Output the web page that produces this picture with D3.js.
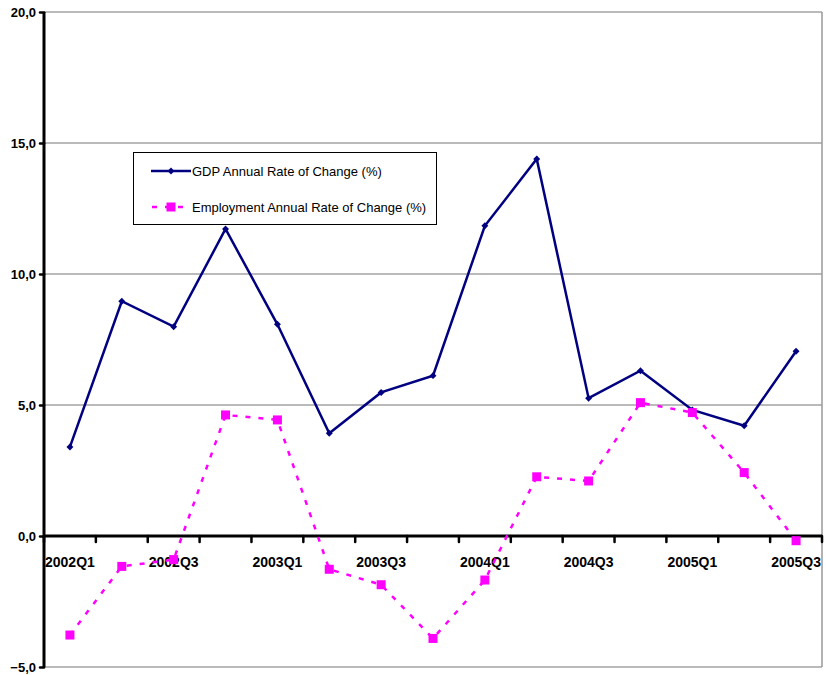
<!DOCTYPE html>
<html>
<head>
<meta charset="utf-8">
<script src="https://cdn.jsdelivr.net/npm/d3@7"></script>
<style>
  body { margin: 0; background: #fff; }
  svg { display: block; font-family: Arial, "Liberation Sans", sans-serif; }
</style>
</head>
<body>
<svg id="chart" width="826" height="675"></svg>
<script>
// Quarterly categories
const quarters = ["2002Q1","2002Q2","2002Q3","2002Q4","2003Q1","2003Q2","2003Q3","2003Q4",
                  "2004Q1","2004Q2","2004Q3","2004Q4","2005Q1","2005Q2","2005Q3"];
// Only every other quarter is labelled on the axis
const labelledQuarters = ["2002Q1","2002Q3","2003Q1","2003Q3","2004Q1","2004Q3","2005Q1","2005Q3"];
// Annual rates of change (%)
const gdpChange = [3.4, 8.96, 7.99, 11.72, 8.08, 3.92, 5.48, 6.12, 11.84, 14.39, 5.26, 6.31, 4.81, 4.21, 7.05];
const employmentChange = [-3.78, -1.16, -0.9, 4.62, 4.43, -1.27, -1.86, -3.91, -1.68, 2.26, 2.1, 5.09, 4.71, 2.42, -0.18];
const yTicks = [-5, 0, 5, 10, 15, 20];
const seriesNames = ["GDP Annual Rate of Change (%)", "Employment Annual Rate of Change (%)"];

const svg = d3.select("#chart");
const plotLeft = 44, plotRight = 822, plotTop = 12, plotBottom = 667;

const x = d3.scaleBand().domain(quarters).range([plotLeft, plotRight]);
const y = d3.scaleLinear().domain([-5, 20]).range([plotBottom, plotTop]);
const cx = d => x(d) + x.bandwidth() / 2;
const fmt = v => d3.format(".1f")(v).replace(".", ",");

// Gridlines and plot frame
svg.append("g").selectAll("line").data(yTicks.filter(t => t !== 0)).join("line")
  .attr("x1", plotLeft).attr("x2", plotRight)
  .attr("y1", d => y(d)).attr("y2", d => y(d))
  .attr("stroke", "#777").attr("stroke-width", 1.2);
svg.append("line").attr("x1", plotRight).attr("x2", plotRight).attr("y1", y(20)).attr("y2", y(-5))
  .attr("stroke", "#999").attr("stroke-width", 1.5);

// Y axis
const yAxis = svg.append("g").attr("transform", `translate(${plotLeft},0)`)
  .call(d3.axisLeft(y).tickValues(yTicks).tickFormat(fmt).tickSize(5).tickPadding(3));
yAxis.select(".domain").remove();
yAxis.selectAll(".tick line").attr("stroke", "#000").attr("stroke-width", 2.5).attr("stroke-linecap", "round").attr("x2", -4);
yAxis.selectAll(".tick text").attr("font-size", 13).attr("font-weight", "bold").attr("fill", "#000")
  .attr("font-family", "Arial, 'Liberation Sans', sans-serif").attr("x", -8);
svg.append("line").attr("x1", plotLeft).attr("x2", plotLeft).attr("y1", y(20)).attr("y2", y(-5))
  .attr("stroke", "#000").attr("stroke-width", 3);

// X axis on the zero line: tick marks at category boundaries
svg.append("g").selectAll("line").data(d3.range(quarters.length + 1)).join("line")
  .attr("x1", i => plotLeft + i * x.bandwidth()).attr("x2", i => plotLeft + i * x.bandwidth())
  .attr("y1", y(0)).attr("y2", y(0) + 6)
  .attr("stroke", "#000").attr("stroke-width", 2.5).attr("stroke-linecap", "round");
svg.append("line").attr("x1", plotLeft).attr("x2", plotRight).attr("y1", y(0)).attr("y2", y(0))
  .attr("stroke", "#000").attr("stroke-width", 3);
svg.append("g").selectAll("text").data(labelledQuarters).join("text")
  .attr("x", d => cx(d)).attr("y", y(0) + 31)
  .attr("text-anchor", "middle").attr("font-size", 14).attr("font-weight", "bold")
  .text(d => d);

// GDP series
const lineGen = d3.line().x((d, i) => cx(quarters[i])).y(d => y(d));
svg.append("path").datum(gdpChange).attr("d", lineGen)
  .attr("fill", "none").attr("stroke", "#000080").attr("stroke-width", 2.5).attr("stroke-linejoin", "miter");
const diamondPath = d3.symbol().type(d3.symbolSquare).size(24)();
svg.append("g").selectAll("path").data(gdpChange).join("path")
  .attr("d", diamondPath).attr("fill", "#000080")
  .attr("transform", (d, i) => `translate(${cx(quarters[i])},${y(d)}) rotate(45)`);

// Employment series
svg.append("path").datum(employmentChange).attr("d", lineGen)
  .attr("fill", "none").attr("stroke", "#ff00ff").attr("stroke-width", 2.5).attr("stroke-dasharray", "5,8");
svg.append("g").selectAll("rect").data(employmentChange).join("rect")
  .attr("x", (d, i) => cx(quarters[i]) - 4.5).attr("y", d => y(d) - 4.5)
  .attr("width", 9).attr("height", 9).attr("fill", "#ff00ff");

// Legend
const legend = svg.append("g");
legend.append("rect").attr("x", 133.5).attr("y", 152.5).attr("width", 303).attr("height", 72)
  .attr("fill", "#fff").attr("stroke", "#000").attr("stroke-width", 1);
legend.append("line").attr("x1", 151).attr("x2", 191).attr("y1", 171).attr("y2", 171)
  .attr("stroke", "#000080").attr("stroke-width", 2.5);
legend.append("path").attr("d", diamondPath)
  .attr("transform", "translate(171,171) rotate(45)").attr("fill", "#000080");
legend.append("line").attr("x1", 151).attr("x2", 191).attr("y1", 207).attr("y2", 207)
  .attr("stroke", "#ff00ff").attr("stroke-width", 2.5).attr("stroke-dasharray", "5,8").attr("stroke-dashoffset", -1);
legend.append("rect").attr("x", 166.5).attr("y", 202.5).attr("width", 9).attr("height", 9).attr("fill", "#ff00ff");
legend.selectAll("text").data(seriesNames).join("text")
  .attr("x", 192).attr("y", (d, i) => 175.5 + i * 36)
  .attr("font-size", 13).attr("fill", "#000").text(d => d);
</script>
</body>
</html>
